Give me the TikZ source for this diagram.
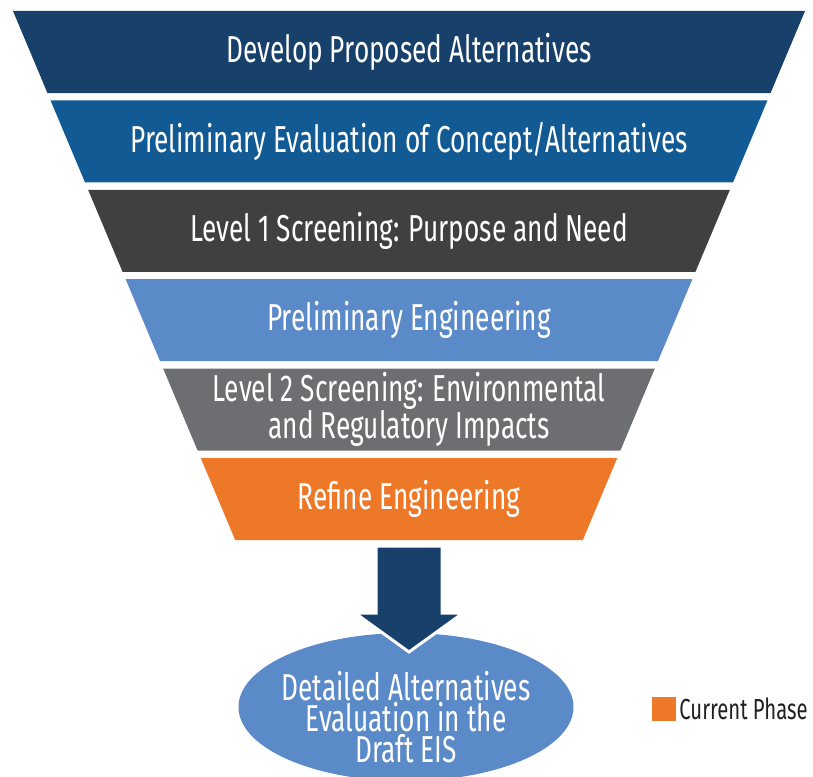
\documentclass[tikz,border=0pt]{standalone}
\usepackage{fontspec}
\setmainfont{Fira Sans}[FakeStretch=0.70]
\usetikzlibrary{positioning,shapes.geometric}
\definecolor{navy}{RGB}{23,64,106}
\definecolor{midblue}{RGB}{17,90,148}
\definecolor{charcoal}{RGB}{64,64,64}
\definecolor{skyblue}{RGB}{91,138,200}
\definecolor{slate}{RGB}{109,110,113}
\definecolor{phase}{RGB}{237,121,40}
\definecolor{inkgray}{RGB}{35,31,32}
\begin{document}
\begin{tikzpicture}[x=1pt,y=-1pt,
  bandtxt/.style={text=white,font=\fontsize{37.5}{31}\selectfont,align=center}]
    \useasboundingbox (0,0) rectangle (813,776);
    % Funil
    \foreach \i/\col/\txt in {0/navy/{Develop Proposed Alternatives},
        1/midblue/{Preliminary Evaluation of Concept/Alternatives},
        2/charcoal/{Level 1 Screening: Purpose and Need},
        3/skyblue/{Preliminary Engineering},
        4/slate/{Level 2 Screening: Environmental\\and Regulatory Impacts},
        5/phase/{Refine Engineering}}{
        \pgfmathsetmacro\yt{11+89.4*\i}
        \pgfmathsetmacro\yb{\yt+82}
        \pgfmathsetmacro\xt{13+0.42*(\yt-11)}
        \pgfmathsetmacro\xb{13+0.42*(\yb-11)}
        \fill[\col] (\xt,\yt) -- (818-\xt,\yt) -- (818-\xb,\yb) -- (\xb,\yb) -- cycle;
        \node[bandtxt] (band\i) at (409,\yt+41) {\txt};
    }
    % Elipse
    \node[ellipse,fill=skyblue,minimum width=335,minimum height=148] (eis) at (406,707) {};
    \node[bandtxt] (eistxt) at ([yshift=-10pt]eis.center)
      {Detailed Alternatives\\Evaluation in the\\Draft EIS};
    % Seta
    \coordinate (atop) at (409,546);
    \fill[navy,draw=white,line width=3pt] (atop) ++(-33,0) -- ++(66,0) -- ++(0,67)
      -- ++(21,0) -- (409,652) -- (355,613) -- ++(21,0) -- cycle;
    % Legenda
    \node[fill=phase,minimum size=24,inner sep=0] (key) at (664,709) {};
    \node[right=3pt of key,inner sep=0,text=inkgray,
      font=\fontsize{29}{30}\selectfont] (keytxt) {Current Phase};
\end{tikzpicture}
\end{document}
